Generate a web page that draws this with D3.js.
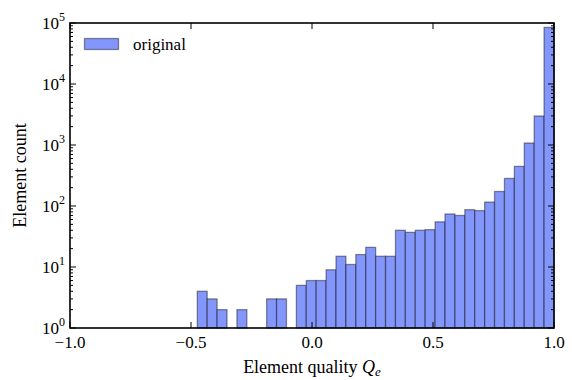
<!DOCTYPE html>
<html><head><meta charset="utf-8">
<script src="https://cdn.jsdelivr.net/npm/d3@7"></script>
<style>
body{margin:0;background:#fff;}
svg{display:block;font-family:"Liberation Serif","DejaVu Serif",serif;}
</style></head>
<body><svg id="c" width="572" height="380"></svg>
<script>
// ---- data ----
const binLo = -0.474;
const binHi = 1.0;
const counts = [4,3,2,0,2,0,0,3,3,0,5,6,6,9,15,11,16,21,15,15,40,37,40,41,55,74,70,87,84,116,173,283,446,1078,2988,84700];
const xTicks = [-1.0,-0.5,0.0,0.5,1.0];
const xTickLabels = ["\u22121.0","\u22120.5","0.0","0.5","1.0"];
const yTicks = [1,10,100,1000,10000,100000];
const yTickExps = ["0","1","2","3","4","5"];
const seriesName = "original";

// ---- layout ----
const svg = d3.select("#c");
const m = {l:70, r:18, t:23, b:52};
const W = 572, H = 380;
const pw = W - m.l - m.r, ph = H - m.t - m.b;
const x = d3.scaleLinear().domain([-1,1]).range([m.l, m.l+pw]);
const y = d3.scaleLog().domain([1,1e5]).range([m.t+ph, m.t]);

const nb = counts.length;
const bw = (binHi - binLo)/nb;
const bins = counts.map((c,i)=>({x0: binLo + i*bw, x1: binLo + (i+1)*bw, c}));

const fill = "#8396fc";
svg.append("g").selectAll("rect").data(bins.filter(d=>d.c>0)).join("rect")
  .attr("x", d=>x(d.x0)).attr("width", d=>x(d.x1)-x(d.x0))
  .attr("y", d=>y(d.c)).attr("height", d=>y(1)-y(d.c))
  .attr("fill", fill)
  .attr("stroke", "#000").attr("stroke-opacity", 0.42).attr("stroke-width", 1.3);

// minor ticks
const minors = [];
for (let e=0;e<5;e++) for (let k=2;k<=9;k++) minors.push(k*Math.pow(10,e));

function tickLines(g, vals, scale, orient, len){
  g.selectAll("line").data(vals).join("line")
   .attr("stroke","#000").attr("stroke-width",1)
   .each(function(v){
     const s = d3.select(this);
     if (orient==="left") s.attr("x1",m.l).attr("x2",m.l+len).attr("y1",scale(v)).attr("y2",scale(v));
     if (orient==="right") s.attr("x1",m.l+pw).attr("x2",m.l+pw-len).attr("y1",scale(v)).attr("y2",scale(v));
     if (orient==="bottom") s.attr("y1",m.t+ph).attr("y2",m.t+ph-len).attr("x1",scale(v)).attr("x2",scale(v));
     if (orient==="top") s.attr("y1",m.t).attr("y2",m.t+len).attr("x1",scale(v)).attr("x2",scale(v));
   });
}
tickLines(svg.append("g"), minors, y, "left", 3);
tickLines(svg.append("g"), minors, y, "right", 3);
tickLines(svg.append("g"), yTicks, y, "left", 6);
tickLines(svg.append("g"), yTicks, y, "right", 6);
tickLines(svg.append("g"), xTicks, x, "bottom", 6);
tickLines(svg.append("g"), xTicks, x, "top", 6);

// frame
svg.append("rect").attr("x",m.l).attr("y",m.t).attr("width",pw).attr("height",ph)
  .attr("fill","none").attr("stroke","#000").attr("stroke-width",1.6);

// x tick labels
svg.append("g").selectAll("text").data(xTicks).join("text")
  .attr("x", d=>x(d)).attr("y", m.t+ph+20)
  .attr("text-anchor","middle").attr("font-size",17)
  .text((d,i)=>xTickLabels[i]);

// y tick labels
const yl = svg.append("g").selectAll("text").data(yTicks).join("text")
  .attr("x", m.l-5).attr("y", d=>y(d)+5.5)
  .attr("text-anchor","end").attr("font-size",17);
yl.append("tspan").text("10");
yl.append("tspan").attr("font-size",12).attr("dy",-8).text((d,i)=>yTickExps[i]);

// axis labels
svg.append("text").attr("transform",`translate(26,${m.t+ph/2}) rotate(-90)`)
  .attr("text-anchor","middle").attr("font-size",18).text("Element count");
const xl = svg.append("text").attr("x", m.l+pw/2).attr("y", 373)
  .attr("text-anchor","middle").attr("font-size",18);
xl.append("tspan").text("Element quality ");
xl.append("tspan").attr("font-style","italic").text("Q");
xl.append("tspan").attr("font-style","italic").attr("font-size",13).attr("dy",3).text("e");

// legend
svg.append("rect").attr("x",84.5).attr("y",38.5).attr("width",34).attr("height",11)
  .attr("fill",fill).attr("stroke","#000").attr("stroke-opacity",0.42).attr("stroke-width",1.3);
svg.append("text").attr("x",133).attr("y",49.5).attr("font-size",17).text(seriesName);
</script></body></html>
